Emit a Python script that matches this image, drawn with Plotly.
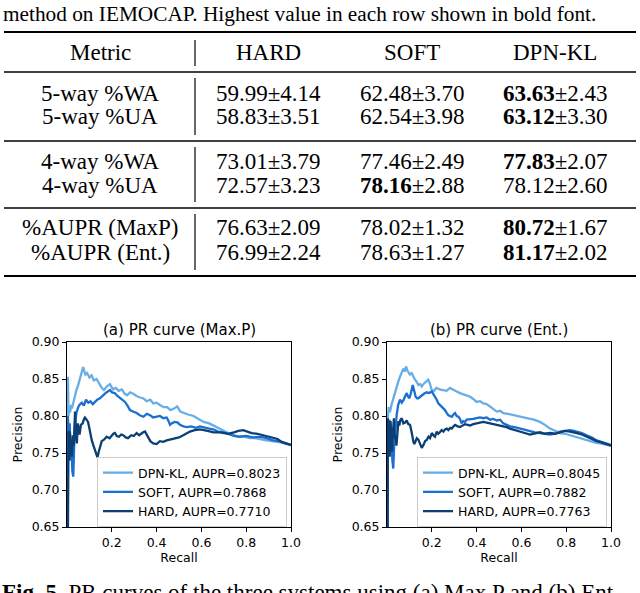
import plotly.graph_objects as go

W, H = 640, 593

# ---------------- table data ----------------
caption_top = "method on IEMOCAP. Highest value in each row shown in bold font."
col_headers = ["Metric", "HARD", "SOFT", "DPN-KL"]
metrics = ["5-way %WA", "5-way %UA", "4-way %WA", "4-way %UA", "%AUPR (MaxP)", "%AUPR (Ent.)"]
hard_vals = [(59.99, 4.14), (58.83, 3.51), (73.01, 3.79), (72.57, 3.23), (76.63, 2.09), (76.99, 2.24)]
soft_vals = [(62.48, 3.70), (62.54, 3.98), (77.46, 2.49), (78.16, 2.88), (78.02, 1.32), (78.63, 1.27)]
dpn_vals = [(63.63, 2.43), (63.12, 3.30), (77.83, 2.07), (78.12, 2.60), (80.72, 1.67), (81.17, 2.02)]
caption_bottom_bold = "Fig. 5."
caption_bottom = " PR curves of the three systems using (a) Max.P and (b) Ent."

# ---------------- PR curve data (recall, precision) ----------------
plot_titles = ["(a) PR curve (Max.P)", "(b) PR curve (Ent.)"]
series_names = ["DPN-KL", "SOFT", "HARD"]
aupr_maxp = [0.8023, 0.7868, 0.7710]
aupr_ent = [0.8045, 0.7882, 0.7763]
x_ticks = [0.2, 0.4, 0.6, 0.8, 1.0]
y_ticks = [0.65, 0.70, 0.75, 0.80, 0.85, 0.90]

kl_maxp = [(0.001, 0.60), (0.004, 0.853), (0.007, 0.800), (0.010, 0.812), (0.014, 0.805), (0.018, 0.815),
           (0.022, 0.810), (0.028, 0.818), (0.035, 0.825), (0.042, 0.835), (0.050, 0.842), (0.058, 0.850),
           (0.066, 0.858), (0.072, 0.866), (0.076, 0.862), (0.082, 0.856), (0.090, 0.858), (0.100, 0.852),
           (0.110, 0.855), (0.120, 0.848), (0.132, 0.850), (0.145, 0.842), (0.155, 0.838), (0.165, 0.835),
           (0.178, 0.840), (0.192, 0.843), (0.205, 0.836), (0.218, 0.838), (0.230, 0.834), (0.245, 0.836),
           (0.258, 0.830), (0.268, 0.828), (0.282, 0.832), (0.296, 0.830), (0.310, 0.827), (0.326, 0.825),
           (0.340, 0.824), (0.356, 0.820), (0.372, 0.822), (0.385, 0.817), (0.400, 0.818), (0.415, 0.815),
           (0.432, 0.812), (0.447, 0.812), (0.462, 0.808), (0.478, 0.810), (0.492, 0.813), (0.506, 0.806),
           (0.520, 0.804), (0.540, 0.802), (0.565, 0.800), (0.590, 0.796), (0.610, 0.792), (0.635, 0.790),
           (0.660, 0.786), (0.685, 0.782), (0.713, 0.778), (0.740, 0.775), (0.765, 0.772), (0.790, 0.772),
           (0.815, 0.770), (0.840, 0.770), (0.865, 0.768), (0.890, 0.767), (0.915, 0.766), (0.940, 0.765),
           (0.960, 0.764), (0.980, 0.762), (1.000, 0.761)]

soft_maxp = [(0.001, 0.55), (0.004, 0.800), (0.008, 0.770), (0.012, 0.790), (0.016, 0.740), (0.020, 0.760),
             (0.024, 0.725), (0.028, 0.718), (0.032, 0.760), (0.036, 0.790), (0.042, 0.804), (0.050, 0.812),
             (0.058, 0.816), (0.066, 0.818), (0.075, 0.814), (0.085, 0.822), (0.095, 0.818), (0.105, 0.820),
             (0.115, 0.816), (0.125, 0.819), (0.135, 0.822), (0.147, 0.824), (0.160, 0.828), (0.172, 0.831),
             (0.182, 0.833), (0.192, 0.835), (0.200, 0.832), (0.213, 0.831), (0.225, 0.827), (0.237, 0.824),
             (0.248, 0.821), (0.259, 0.819), (0.270, 0.814), (0.281, 0.808), (0.295, 0.806), (0.311, 0.804),
             (0.325, 0.801), (0.341, 0.799), (0.356, 0.803), (0.371, 0.801), (0.385, 0.798), (0.400, 0.799),
             (0.415, 0.800), (0.430, 0.797), (0.445, 0.798), (0.452, 0.794), (0.460, 0.788), (0.467, 0.790),
             (0.480, 0.792), (0.495, 0.791), (0.504, 0.788), (0.520, 0.786), (0.534, 0.785), (0.555, 0.786),
             (0.575, 0.784), (0.594, 0.786), (0.615, 0.784), (0.635, 0.783), (0.653, 0.782), (0.675, 0.779),
             (0.698, 0.778), (0.720, 0.776), (0.745, 0.773), (0.770, 0.772), (0.800, 0.773), (0.830, 0.771),
             (0.862, 0.772), (0.890, 0.770), (0.920, 0.767), (0.945, 0.766), (0.970, 0.764), (0.985, 0.762),
             (1.000, 0.761)]

hard_maxp = [(0.001, 0.50), (0.004, 0.720), (0.007, 0.780), (0.010, 0.740), (0.013, 0.779), (0.016, 0.760),
             (0.019, 0.766), (0.022, 0.745), (0.026, 0.774), (0.030, 0.760), (0.033, 0.790), (0.036, 0.806),
             (0.040, 0.772), (0.044, 0.763), (0.048, 0.790), (0.051, 0.783), (0.056, 0.775), (0.062, 0.788),
             (0.070, 0.790), (0.076, 0.796), (0.080, 0.798), (0.087, 0.795), (0.094, 0.792), (0.100, 0.783),
             (0.105, 0.774), (0.110, 0.768), (0.117, 0.761), (0.124, 0.755), (0.130, 0.750), (0.136, 0.744),
             (0.142, 0.752), (0.148, 0.760), (0.155, 0.766), (0.165, 0.768), (0.177, 0.772), (0.190, 0.770),
             (0.200, 0.774), (0.207, 0.776), (0.214, 0.777), (0.222, 0.773), (0.232, 0.772), (0.242, 0.775),
             (0.251, 0.774), (0.262, 0.771), (0.272, 0.770), (0.280, 0.772), (0.287, 0.774), (0.298, 0.773),
             (0.311, 0.777), (0.322, 0.774), (0.330, 0.776), (0.340, 0.778), (0.348, 0.779), (0.355, 0.775),
             (0.363, 0.770), (0.372, 0.766), (0.385, 0.763), (0.400, 0.762), (0.415, 0.766), (0.430, 0.765),
             (0.445, 0.767), (0.463, 0.768), (0.482, 0.770), (0.500, 0.771), (0.519, 0.774), (0.535, 0.777),
             (0.549, 0.779), (0.570, 0.781), (0.594, 0.782), (0.612, 0.781), (0.631, 0.780), (0.655, 0.778),
             (0.683, 0.778), (0.700, 0.777), (0.720, 0.776), (0.745, 0.778), (0.765, 0.780), (0.787, 0.781),
             (0.805, 0.779), (0.824, 0.777), (0.850, 0.776), (0.877, 0.774), (0.900, 0.772), (0.920, 0.770),
             (0.940, 0.769), (0.958, 0.765), (0.975, 0.763), (0.990, 0.762), (1.000, 0.761)]

kl_ent = [(0.001, 0.55), (0.004, 0.800), (0.008, 0.812), (0.013, 0.805), (0.020, 0.815), (0.028, 0.824),
          (0.036, 0.832), (0.043, 0.842), (0.050, 0.846), (0.058, 0.853), (0.066, 0.858), (0.073, 0.864),
          (0.080, 0.860), (0.085, 0.867), (0.090, 0.862), (0.095, 0.860), (0.102, 0.856), (0.110, 0.858),
          (0.118, 0.852), (0.125, 0.849), (0.133, 0.846), (0.140, 0.842), (0.148, 0.843), (0.155, 0.840),
          (0.162, 0.843), (0.170, 0.845), (0.177, 0.847), (0.184, 0.849), (0.190, 0.845), (0.195, 0.838),
          (0.200, 0.835), (0.210, 0.834), (0.220, 0.838), (0.235, 0.836), (0.251, 0.835), (0.266, 0.834),
          (0.281, 0.838), (0.296, 0.835), (0.311, 0.833), (0.326, 0.831), (0.341, 0.829), (0.356, 0.827),
          (0.371, 0.826), (0.385, 0.823), (0.400, 0.819), (0.415, 0.820), (0.430, 0.817), (0.445, 0.816),
          (0.460, 0.813), (0.475, 0.810), (0.490, 0.806), (0.505, 0.807), (0.519, 0.804), (0.540, 0.803),
          (0.564, 0.801), (0.595, 0.799), (0.624, 0.797), (0.655, 0.795), (0.683, 0.792), (0.705, 0.788),
          (0.728, 0.783), (0.750, 0.780), (0.772, 0.777), (0.795, 0.776), (0.817, 0.774), (0.840, 0.772),
          (0.862, 0.770), (0.885, 0.768), (0.906, 0.766), (0.930, 0.764), (0.951, 0.763), (0.975, 0.762),
          (0.990, 0.761), (1.000, 0.760)]

soft_ent = [(0.001, 0.52), (0.004, 0.790), (0.008, 0.760), (0.012, 0.795), (0.016, 0.750), (0.020, 0.770),
            (0.024, 0.740), (0.028, 0.729), (0.032, 0.760), (0.036, 0.780), (0.043, 0.801), (0.050, 0.815),
            (0.058, 0.822), (0.066, 0.818), (0.073, 0.821), (0.080, 0.826), (0.088, 0.831), (0.094, 0.826),
            (0.100, 0.824), (0.106, 0.830), (0.110, 0.835), (0.115, 0.842), (0.118, 0.838), (0.122, 0.831),
            (0.128, 0.826), (0.134, 0.824), (0.140, 0.824), (0.148, 0.826), (0.155, 0.828), (0.165, 0.830),
            (0.177, 0.832), (0.188, 0.831), (0.200, 0.833), (0.207, 0.830), (0.214, 0.826), (0.222, 0.822),
            (0.229, 0.817), (0.236, 0.815), (0.244, 0.8126), (0.252, 0.810), (0.259, 0.808), (0.267, 0.804),
            (0.274, 0.801), (0.281, 0.800), (0.289, 0.799), (0.297, 0.802), (0.304, 0.804), (0.311, 0.800),
            (0.319, 0.799), (0.326, 0.796), (0.333, 0.790), (0.340, 0.793), (0.348, 0.792), (0.356, 0.795),
            (0.371, 0.795), (0.385, 0.796), (0.400, 0.797), (0.415, 0.798), (0.430, 0.797), (0.445, 0.798),
            (0.460, 0.795), (0.475, 0.796), (0.490, 0.794), (0.505, 0.795), (0.519, 0.790), (0.534, 0.788),
            (0.549, 0.786), (0.570, 0.785), (0.594, 0.783), (0.615, 0.781), (0.638, 0.779), (0.660, 0.778),
            (0.683, 0.777), (0.705, 0.776), (0.728, 0.775), (0.750, 0.776), (0.772, 0.779), (0.795, 0.780),
            (0.817, 0.781), (0.835, 0.780), (0.847, 0.779), (0.870, 0.777), (0.891, 0.774), (0.915, 0.771),
            (0.936, 0.767), (0.960, 0.765), (0.980, 0.763), (1.000, 0.761)]

hard_ent = [(0.001, 0.50), (0.004, 0.797), (0.008, 0.770), (0.012, 0.745), (0.016, 0.793), (0.019, 0.766),
            (0.023, 0.752), (0.027, 0.780), (0.031, 0.797), (0.034, 0.770), (0.038, 0.774), (0.042, 0.760),
            (0.047, 0.782), (0.051, 0.793), (0.055, 0.787), (0.060, 0.795), (0.066, 0.797), (0.073, 0.790),
            (0.081, 0.791), (0.088, 0.794), (0.095, 0.789), (0.103, 0.788), (0.110, 0.778), (0.114, 0.770),
            (0.118, 0.765), (0.122, 0.762), (0.125, 0.765), (0.133, 0.770), (0.140, 0.768), (0.148, 0.761),
            (0.155, 0.757), (0.163, 0.761), (0.170, 0.766), (0.178, 0.768), (0.185, 0.772), (0.192, 0.770),
            (0.200, 0.777), (0.207, 0.774), (0.214, 0.772), (0.222, 0.779), (0.229, 0.776), (0.236, 0.778),
            (0.244, 0.781), (0.252, 0.779), (0.259, 0.782), (0.267, 0.783), (0.274, 0.781), (0.282, 0.784),
            (0.289, 0.783), (0.297, 0.786), (0.304, 0.788), (0.315, 0.786), (0.326, 0.785), (0.337, 0.787),
            (0.348, 0.789), (0.360, 0.788), (0.371, 0.787), (0.385, 0.789), (0.400, 0.790), (0.415, 0.791),
            (0.430, 0.792), (0.445, 0.791), (0.460, 0.790), (0.475, 0.789), (0.490, 0.788), (0.505, 0.787),
            (0.519, 0.786), (0.534, 0.785), (0.549, 0.783), (0.570, 0.781), (0.594, 0.778), (0.615, 0.777),
            (0.638, 0.775), (0.660, 0.776), (0.683, 0.778), (0.705, 0.776), (0.728, 0.777), (0.750, 0.776),
            (0.772, 0.778), (0.795, 0.780), (0.817, 0.779), (0.835, 0.778), (0.847, 0.777), (0.870, 0.775),
            (0.891, 0.772), (0.915, 0.769), (0.936, 0.766), (0.960, 0.764), (0.980, 0.762), (1.000, 0.760)]

colors = ["#68aee6", "#1a6fcf", "#0c3f73"]

# ---------------- helpers ----------------
def px(x):
    return x / W

def py(y):
    return 1 - y / H

SERIF = "Liberation Serif"
SANS = "DejaVu Sans"

fig = go.Figure()

panels = [
    ([kl_maxp, soft_maxp, hard_maxp], aupr_maxp, "x", "y", "legend"),
    ([kl_ent, soft_ent, hard_ent], aupr_ent, "x2", "y2", "legend2"),
]
for curves, auprs, xa, ya, lg in panels:
    for name, data, aupr, col in zip(series_names, curves, auprs, colors):
        fig.add_trace(go.Scatter(
            x=[d[0] for d in data], y=[d[1] for d in data], mode="lines",
            name=f"{name}, AUPR={aupr:.4f}", line=dict(color=col, width=2.3),
            xaxis=xa, yaxis=ya, legend=lg, hoverinfo="skip"))

axis_common = dict(showline=True, linecolor="black", linewidth=1, mirror=True,
                   ticks="outside", ticklen=4, tickwidth=1, tickcolor="black",
                   showgrid=False, zeroline=False, automargin=False,
                   tickfont=dict(family=SANS, size=12.5, color="black"))

panel_x = [(67, 291), (387, 611)]
ytop, ybot = 342, 527
for i, (x0, x1) in enumerate(panel_x):
    sfx = "" if i == 0 else str(i + 1)
    fig.update_layout(**{
        "xaxis" + sfx: dict(axis_common, domain=[px(x0), px(x1)], range=[0, 1.0],
                            tickvals=x_ticks, tickformat=".1f",
                            anchor="y" + sfx,
                            title=dict(text="Recall", font=dict(family=SANS, size=12.5, color="black"), standoff=4)),
        "yaxis" + sfx: dict(axis_common, domain=[py(ybot), py(ytop)], range=[0.65, 0.90],
                            tickvals=y_ticks, tickformat=".2f",
                            anchor="x" + sfx,
                            title=dict(text="Precision", font=dict(family=SANS, size=12.5, color="black"), standoff=6)),
    })

legend_common = dict(font=dict(family=SANS, size=12.5, color="black"),
                     bordercolor="#cccccc", borderwidth=1, bgcolor="rgba(255,255,255,0.85)",
                     xanchor="left", yanchor="top", tracegroupgap=0)
fig.update_layout(
    legend=dict(legend_common, x=px(97), y=py(457)),
    legend2=dict(legend_common, x=px(417), y=py(457)),
)

annotations = []
for (x0, x1), t in zip(panel_x, plot_titles):
    annotations.append(dict(text=t, x=px((x0 + x1) / 2), y=py(330), xref="paper", yref="paper",
                            xanchor="center", yanchor="middle", showarrow=False,
                            font=dict(family=SANS, size=15, color="black")))

# table text
annotations.append(dict(text=caption_top, x=px(1), y=py(14), xref="paper", yref="paper",
                        xanchor="left", yanchor="middle", showarrow=False,
                        font=dict(family=SERIF, size=21.3, color="black")))
col_x = [100, 268, 412, 555]
header_y = 53
for cx, h in zip(col_x, col_headers):
    annotations.append(dict(text=h, x=px(cx), y=py(header_y), xref="paper", yref="paper",
                            xanchor="center", yanchor="middle", showarrow=False,
                            font=dict(family=SERIF, size=23, color="black")))
row_y = [93, 116, 161, 185, 228, 252]
for i, m in enumerate(metrics):
    vals = [hard_vals[i], soft_vals[i], dpn_vals[i]]
    best = max(range(3), key=lambda k: vals[k][0])
    cells = [m]
    for k, (mu, sd) in enumerate(vals):
        s = f"{mu:.2f}"
        if k == best:
            s = f"<b>{s}</b>"
        cells.append(f"{s}±{sd:.2f}")
    for cx, c in zip(col_x, cells):
        annotations.append(dict(text=c, x=px(cx), y=py(row_y[i]), xref="paper", yref="paper",
                                xanchor="center", yanchor="middle", showarrow=False,
                                font=dict(family=SERIF, size=23, color="black")))

annotations.append(dict(text=f"<b>{caption_bottom_bold}</b>{caption_bottom}", x=px(0), y=py(578),
                        xref="paper", yref="paper", xanchor="left", yanchor="top", showarrow=False,
                        font=dict(family=SERIF, size=23, color="black")))

shapes = []
rules = [(32, 2.2), (72, 1.3), (141, 1.3), (208, 1.3), (276, 2.2)]
for yy, w in rules:
    shapes.append(dict(type="line", xref="paper", yref="paper", x0=px(4), x1=px(636),
                       y0=py(yy), y1=py(yy), line=dict(color="black", width=w)))
vsegs = [(40, 66), (78, 135), (147, 202), (214, 270)]
for a, b in vsegs:
    shapes.append(dict(type="line", xref="paper", yref="paper", x0=px(195), x1=px(195),
                       y0=py(a), y1=py(b), line=dict(color="black", width=1.2)))

fig.update_layout(width=W, height=H, margin=dict(l=0, r=0, t=0, b=0, autoexpand=False),
                  paper_bgcolor="white", plot_bgcolor="white",
                  annotations=annotations, shapes=shapes, showlegend=True)

fig.write_html("out.html", config={"displayModeBar": False},
               post_script="document.body.style.margin='0';document.body.style.overflow='hidden';")
